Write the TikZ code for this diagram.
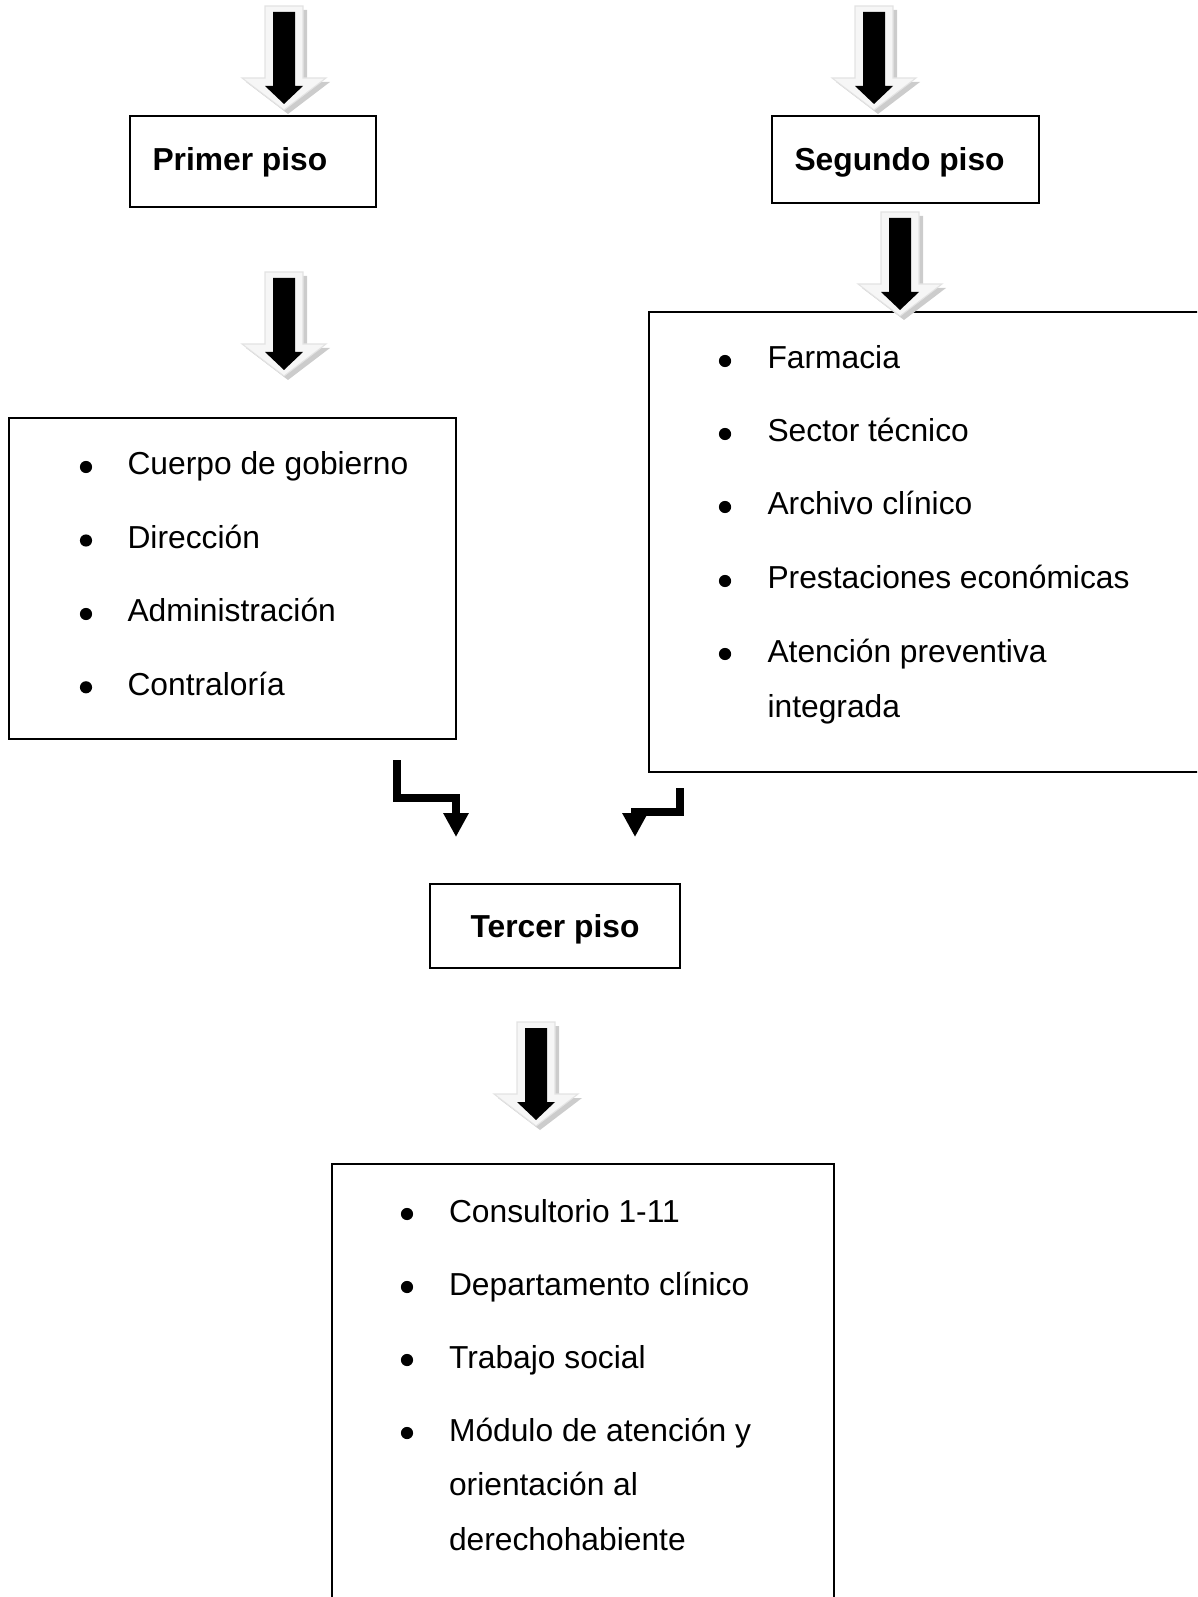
\documentclass[tikz,border=0pt]{standalone}
\usepackage{fontspec}
\setmainfont{Liberation Sans}
\usetikzlibrary{arrows.meta, positioning, fit}

% flecha gruesa con sombra: #1 = centro x, #2 = borde superior
\newcommand{\flechagruesa}[2]{%
  \begin{scope}[shift={(#1,#2)}]
    \fill[gray!40, shift={(4,4)}] (-19,0) -- (19,0) -- (19,72) -- (42,72) -- (0,104) -- (-42,72) -- (-19,72) -- cycle;
    \filldraw[fill=gray!7, draw=gray!22, line width=0.4pt] (-19,0) -- (19,0) -- (19,72) -- (42,72) -- (0,104) -- (-42,72) -- (-19,72) -- cycle;
    \fill[black] (-11,6) -- (11,6) -- (11,80) -- (19,80) -- (0,98) -- (-19,80) -- (-11,80) -- cycle;
  \end{scope}}

\begin{document}
\begin{tikzpicture}[x=0.01328cm, y=-0.01328cm,
caja/.style={draw, line width=0.8pt, inner sep=0pt},
titulo/.style={anchor=base west, inner sep=0pt,
font=\fontsize{12pt}{14pt}\selectfont\bfseries},
texto/.style={anchor=base west, inner sep=0pt,
font=\fontsize{12pt}{14pt}\selectfont},
vineta/.style={circle, fill=black, inner sep=0pt, minimum size=4.6pt},
codo/.style={line width=3pt, line join=miter, -{Triangle[width=9pt, length=9pt]}}]

\useasboundingbox (0,0) rectangle (1197,1597);
\clip (0,0) rectangle (1197,1597);

% cajas
\node[caja, fit={(130,116) (376,207)}] (primer) {};
\node[caja, fit={(772,116) (1039,203)}] (segundo) {};
\node[caja, fit={(9,418) (456,739)}] (listaPrimer) {};
\node[caja, fit={(649,312) (1220,772)}] (listaSegundo) {};
\node[caja, fit={(430,884) (680,968)}] (tercer) {};
\node[caja, fit={(332,1164) (834,1630)}] (listaTercer) {};

% titulos
\node[titulo] (tPrimer) at (152,171) {Primer piso};
\node[titulo] (tSegundo) at (794,171) {Segundo piso};
\node[titulo] (tTercer) at (470,937) {Tercer piso};

% primer piso
\node[vineta] (v11) at (86,467) {};
\node[texto] (p11) at (127,475) {Cuerpo de gobierno};
\node[vineta] (v12) at (86,540.5) {};
\node[texto] (p12) at (127,548.5) {Dirección};
\node[vineta] (v13) at (86,614) {};
\node[texto] (p13) at (127,622) {Administración};
\node[vineta] (v14) at (86,687.3) {};
\node[texto] (p14) at (127,695.3) {Contraloría};

% segundo piso
\node[vineta] (v21) at (725,361) {};
\node[texto] (p21) at (767,369) {Farmacia};
\node[vineta] (v22) at (725,434) {};
\node[texto] (p22) at (767,442) {Sector técnico};
\node[vineta] (v23) at (725,507) {};
\node[texto] (p23) at (767,515) {Archivo clínico};
\node[vineta] (v24) at (725,581) {};
\node[texto] (p24) at (767,589) {Prestaciones económicas};
\node[vineta] (v25) at (725,654) {};
\node[texto] (p25) at (767,662) {Atención preventiva};
\node[texto] (p25b) at (767,717) {integrada};

% tercer piso
\node[vineta] (v31) at (407,1214) {};
\node[texto] (p31) at (448.5,1222) {Consultorio 1-11};
\node[vineta] (v32) at (407,1287) {};
\node[texto] (p32) at (448.5,1295) {Departamento clínico};
\node[vineta] (v33) at (407,1360) {};
\node[texto] (p33) at (448.5,1368) {Trabajo social};
\node[vineta] (v34) at (407,1433) {};
\node[texto] (p34) at (448.5,1441) {Módulo de atención y};
\node[texto] (p34b) at (448.5,1495) {orientación al};
\node[texto] (p34c) at (448.5,1550) {derechohabiente};

% flechas gruesas
\flechagruesa{284}{6}
\flechagruesa{874}{6}
\flechagruesa{284}{272}
\flechagruesa{900}{212}
\flechagruesa{536}{1022}

% flechas en codo
\coordinate (codoA) at (397,760);
\coordinate (codoB) at (456,837);
\coordinate (codoC) at (680,788);
\coordinate (codoD) at (635,837);
\draw[codo] (codoA) |- (456,798) -- (codoB);
\draw[codo] (codoC) |- (635,812) -- (codoD);
\end{tikzpicture}
\end{document}
